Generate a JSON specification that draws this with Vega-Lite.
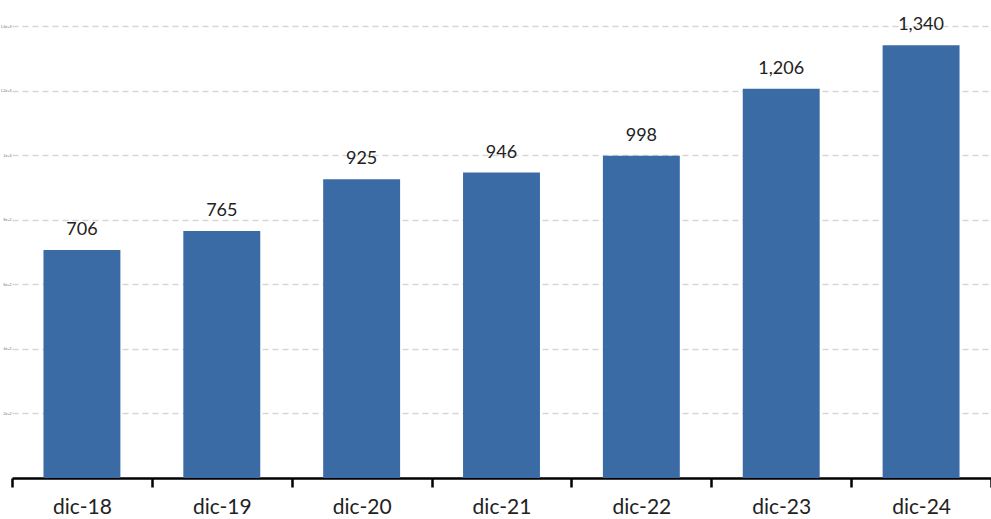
{
  "$schema": "https://vega.github.io/schema/vega-lite/v6.json",
  "width": 979,
  "height": 452,
  "autosize": {"type": "none"},
  "padding": {"left": 12, "top": 26, "right": 0, "bottom": 41},
  "background": "white",
  "config": {"view": {"stroke": null}},
  "data": {"values": [
    {"mes": "dic-18", "valor": 706},
    {"mes": "dic-19", "valor": 765},
    {"mes": "dic-20", "valor": 925},
    {"mes": "dic-21", "valor": 946},
    {"mes": "dic-22", "valor": 998},
    {"mes": "dic-23", "valor": 1206},
    {"mes": "dic-24", "valor": 1340}
  ]},
  "encoding": {
    "x": {"field": "mes", "type": "nominal", "sort": null,
      "scale": {"paddingInner": 0, "paddingOuter": 0},
      "axis": {"title": null, "labelAngle": 0, "tickBand": "extent", "domainColor": "#000", "domainWidth": 2.5,
        "tickColor": "#000", "tickWidth": 2.5, "tickSize": 9, "labelFont": "Lato", "labelFontSize": 21,
        "labelColor": "#222", "labelPadding": 9}},
    "y": {"field": "valor", "type": "quantitative",
      "scale": {"domain": [0, 1400]},
      "axis": {"title": null, "values": [200, 400, 600, 800, 1000, 1200, 1400], "format": ",",
        "domain": false, "ticks": false, "labelFontSize": 3.5, "labelColor": "#666", "labelPadding": 1,
        "grid": true, "gridDash": [6, 4], "gridColor": "#d6d6d6", "gridWidth": 1.5}}
  },
  "layer": [
    {"mark": {"type": "bar", "color": "#3b6ba5", "width": {"band": 0.55}}},
    {"mark": {"type": "text", "dy": -15, "baseline": "alphabetic", "font": "Lato", "fontSize": 18, "color": "#222"},
      "encoding": {"text": {"field": "valor", "type": "quantitative", "format": ","}}}
  ]
}
